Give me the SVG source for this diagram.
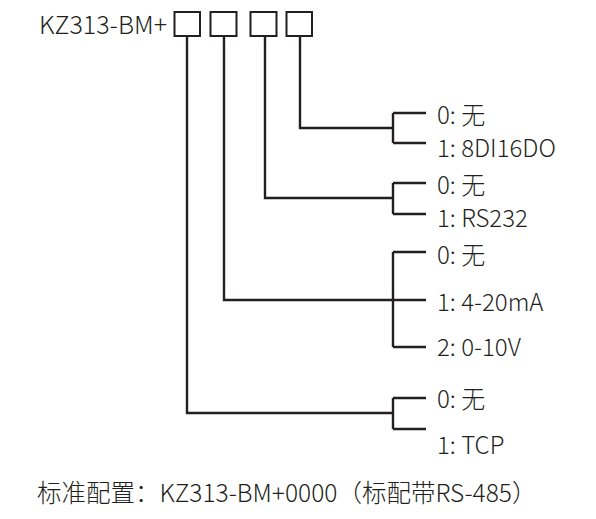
<svg xmlns="http://www.w3.org/2000/svg" width="596" height="519" viewBox="0 0 596 519">
<style>
text{font-family:"Noto Sans CJK SC","Noto Sans",sans-serif;font-size:24px;font-weight:300;fill:#231f20}
.box{fill:none;stroke:#231f20;stroke-width:2}
.ln{fill:none;stroke:#231f20;stroke-width:2.4}
</style>
<rect width="596" height="519" fill="#ffffff"/>
<g id="title"><text x="39" y="34" style="font-size:25px">KZ313-BM+</text></g>
<g id="box1"><rect class="box" x="174.5" y="12" width="25.5" height="24"/></g>
<g id="box2"><rect class="box" x="210.5" y="12" width="26" height="24"/></g>
<g id="box3"><rect class="box" x="250.5" y="12" width="26" height="24"/></g>
<g id="box4"><rect class="box" x="286.5" y="12" width="25.5" height="24"/></g>
<g id="connectors">
<path class="ln" d="M300 36V128H393M393 113V143M393 113H426M393 143H426"/>
<path class="ln" d="M265 36V198H393M393 183V214M393 183H426M393 214H426"/>
<path class="ln" d="M224 36V300H426M393 252V347M393 252H426M393 347H426"/>
<path class="ln" d="M187 36V413H393M393 398V429M393 398H426M393 429H426"/>
</g>
<g id="opt4">
<text x="437" y="124">0: 无</text>
<text x="437" y="157">1: 8DI16DO</text>
</g>
<g id="opt3">
<text x="437" y="194">0: 无</text>
<text x="437" y="227">1: RS232</text>
</g>
<g id="opt2">
<text x="437" y="264">0: 无</text>
<text x="437" y="311">1: 4-20mA</text>
<text x="437" y="356">2: 0-10V</text>
</g>
<g id="opt1">
<text x="437" y="408">0: 无</text>
<text x="437" y="454">1: TCP</text>
</g>
<g id="footer"><text x="37" y="502" style="font-size:24.5px">标准配置：KZ313-BM+0000（标配带RS-485）</text></g>
</svg>
